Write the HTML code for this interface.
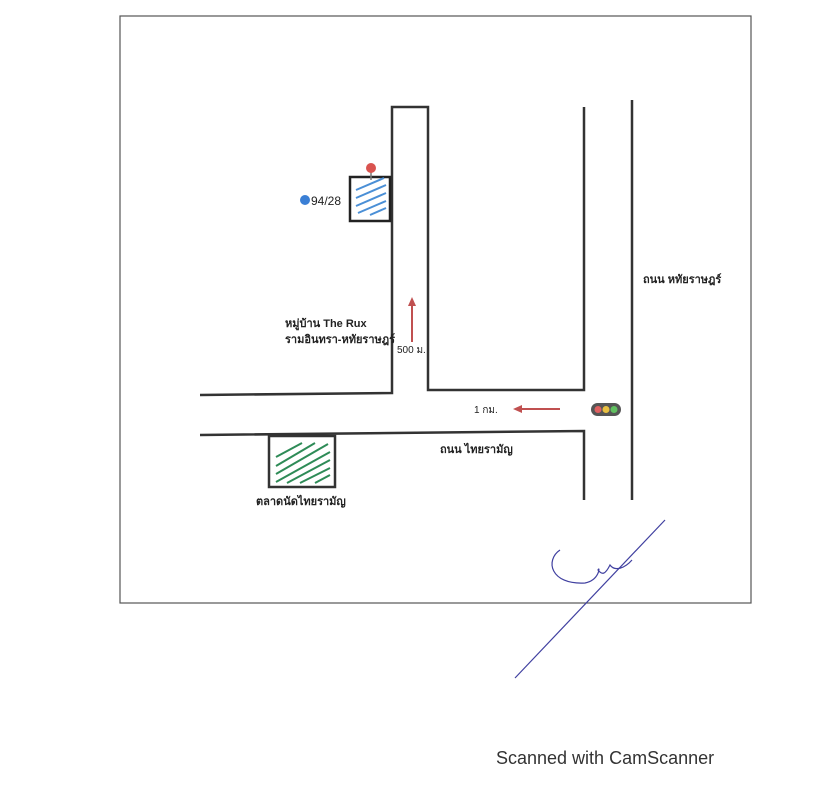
<!DOCTYPE html>
<html><head><meta charset="utf-8"><style>body{margin:0;background:#fff}svg{display:block}text{font-family:"Liberation Sans",sans-serif;fill:#222}</style></head><body>
<svg width="822" height="800" viewBox="0 0 822 800" xmlns="http://www.w3.org/2000/svg">
<rect x="120" y="16" width="631" height="587" fill="none" stroke="#555" stroke-width="1.2"/>
<g stroke="#333" stroke-width="2.5" fill="none">
<polyline points="200,395 392,393 392,107 428,107 428,390 584,390 584,107"/>
<polyline points="200,435 584,431 584,500"/>
<line x1="632" y1="100" x2="632" y2="500"/>
</g>
<rect x="350" y="177" width="40" height="44" fill="#fff" stroke="#222" stroke-width="2.5"/>
<g stroke="#4a8fd6" stroke-width="2">
<line x1="356" y1="190" x2="384" y2="178"/><line x1="356" y1="198" x2="386" y2="185"/><line x1="356" y1="206" x2="386" y2="193"/><line x1="358" y1="213" x2="386" y2="201"/><line x1="370" y1="215" x2="386" y2="208"/>
</g>
<line x1="371" y1="170" x2="371" y2="180" stroke="#777" stroke-width="1.5"/>
<circle cx="371" cy="168" r="5" fill="#d9534f"/>
<circle cx="305" cy="200" r="5" fill="#3a7fd5"/>
<text x="311" y="205" font-size="12">94/28</text>
<rect x="269" y="436" width="66" height="51" fill="#fff" stroke="#333" stroke-width="2.5"/>
<g stroke="#2e8b57" stroke-width="2">
<line x1="276" y1="457" x2="302" y2="443"/><line x1="276" y1="466" x2="315" y2="443"/><line x1="276" y1="474" x2="328" y2="444"/><line x1="276" y1="482" x2="330" y2="452"/><line x1="287" y1="483" x2="330" y2="460"/><line x1="300" y1="483" x2="330" y2="468"/><line x1="315" y1="483" x2="330" y2="475"/>
</g>
<text x="256" y="505" font-size="11" font-weight="bold">ตลาดนัดไทยรามัญ</text>
<text x="440" y="453" font-size="11" font-weight="bold">ถนน ไทยรามัญ</text>
<text x="643" y="283" font-size="11" font-weight="bold">ถนน หทัยราษฎร์</text>
<text x="285" y="327" font-size="11" font-weight="bold">หมู่บ้าน The Rux</text>
<text x="285" y="343" font-size="11" font-weight="bold">รามอินทรา-หทัยราษฎร์</text>
<text x="397" y="353" font-size="10">500 ม.</text>
<line x1="412" y1="342" x2="412" y2="304" stroke="#c05050" stroke-width="2"/>
<polygon points="412,297 408,306 416,306" fill="#c05050"/>
<text x="474" y="413" font-size="10">1 กม.</text>
<line x1="520" y1="409" x2="560" y2="409" stroke="#c05050" stroke-width="2"/>
<polygon points="513,409 522,405 522,413" fill="#c05050"/>
<rect x="591" y="403" width="30" height="13" rx="6.5" fill="#555"/>
<circle cx="598" cy="409.5" r="3.5" fill="#e06060"/><circle cx="606" cy="409.5" r="3.5" fill="#e8c040"/><circle cx="614" cy="409.5" r="3.5" fill="#60c060"/>
<g stroke="#4040a0" stroke-width="1.2" fill="none">
<line x1="515" y1="678" x2="665" y2="520"/>
<path d="M560,550 C545,560 550,585 585,583 C600,580 600,565 598,570 C602,575 605,575 610,565 C615,572 625,568 632,560"/>
</g>
<text x="496" y="764" font-size="18" style="fill:#333">Scanned with CamScanner</text>
</svg>
</body></html>
